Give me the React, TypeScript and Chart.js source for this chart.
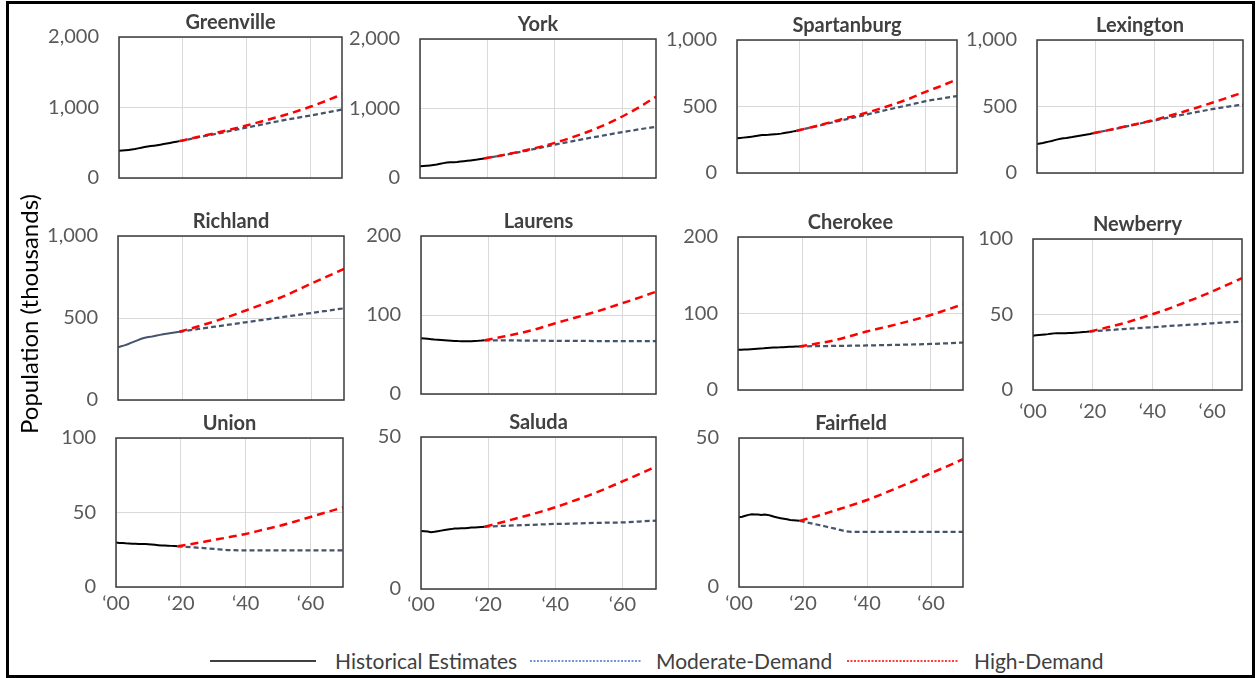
import React, { useEffect, useRef } from "react";
import { Chart, registerables } from "chart.js";

Chart.register(...registerables);

// ---------- data ----------
const HIST_YEARS = [2000, 2001, 2002, 2003, 2004, 2005, 2006, 2007, 2008, 2009, 2010, 2011, 2012, 2013, 2014, 2015, 2016, 2017, 2018, 2019];
const PROJ_YEARS = [2019, 2025, 2030, 2035, 2040, 2045, 2050, 2055, 2060, 2065, 2070];
const X_TICK_VALUES = [2000, 2020, 2040, 2060];
const X_TICK_LABELS = ["\u201800", "\u201820", "\u201840", "\u201860"];
const SERIES_NAMES = ["Historical Estimates", "Moderate-Demand", "High-Demand"];

const greenvilleHist = [385, 389, 393, 398, 404, 411, 420, 430, 440, 447, 453, 459, 466, 473, 481, 489, 497, 506, 515, 523];
const greenvilleModerate = [523, 578, 622, 668, 715, 760, 805, 847, 885, 928, 970];
const greenvilleHigh = [523, 585, 635, 688, 745, 805, 868, 935, 1010, 1095, 1187];
const greenvilleTicks = [0, 1000, 2000];

const yorkHist = [168, 172, 176, 181, 187, 194, 204, 214, 222, 227, 228, 231, 236, 241, 247, 253, 260, 266, 274, 281];
const yorkModerate = [281, 332, 378, 428, 480, 528, 573, 617, 660, 700, 737];
const yorkHigh = [281, 333, 384, 441, 506, 582, 669, 769, 885, 1018, 1170];
const yorkTicks = [0, 1000, 2000];

const spartanburgHist = [262, 264, 266, 268, 271, 274, 278, 282, 285, 286, 287, 289, 291, 293, 296, 300, 304, 308, 313, 318];
const spartanburgModerate = [318, 350, 378, 405, 432, 460, 487, 513, 540, 560, 578];
const spartanburgHigh = [318, 352, 383, 415, 445, 480, 518, 560, 610, 655, 704];
const spartanburgTicks = [0, 500, 1000];

const lexingtonHist = [218, 222, 226, 231, 236, 241, 247, 253, 258, 262, 264, 267, 270, 274, 278, 282, 286, 290, 294, 299];
const lexingtonModerate = [299, 325, 348, 372, 395, 418, 440, 461, 482, 499, 515];
const lexingtonHigh = [299, 326, 350, 374, 400, 430, 462, 496, 532, 568, 606];
const lexingtonTicks = [0, 500, 1000];

const richlandHist = [322, 328, 333, 340, 348, 356, 364, 372, 378, 382, 385, 389, 393, 397, 401, 404, 407, 410, 413, 416];
const richlandModerate = [416, 433, 447, 461, 475, 489, 503, 517, 531, 545, 559];
const richlandHigh = [416, 450, 480, 513, 549, 585, 622, 665, 711, 755, 800];
const richlandTicks = [0, 500, 1000];

const laurensHist = [70.5, 70.2, 69.8, 69.4, 69.0, 68.7, 68.4, 68.1, 67.8, 67.5, 67.2, 67.0, 66.9, 66.8, 66.8, 66.9, 67.1, 67.3, 67.6, 68.0];
const laurensModerate = [68.0, 68.0, 67.7, 67.5, 67.3, 67.2, 67.1, 67.0, 67.0, 67.0, 67.0];
const laurensHigh = [68.0, 73.0, 77.5, 83.0, 89.5, 95.5, 101.5, 108.0, 115.0, 122.0, 129.5];
const laurensTicks = [0, 100, 200];

const cherokeeHist = [52.5, 52.7, 52.9, 53.1, 53.4, 53.7, 54.0, 54.3, 54.6, 55.0, 55.3, 55.5, 55.7, 55.8, 56.0, 56.2, 56.4, 56.6, 56.8, 57.0];
const cherokeeModerate = [57.0, 57.3, 57.6, 57.9, 58.2, 58.6, 59.1, 59.6, 60.2, 61.0, 62.0];
const cherokeeHigh = [57.0, 61.0, 65.0, 70.5, 76.4, 81.5, 86.5, 92.0, 98.0, 105.0, 112.0];
const cherokeeTicks = [0, 100, 200];

const newberryHist = [36.0, 36.2, 36.4, 36.6, 36.8, 37.0, 37.3, 37.5, 37.6, 37.6, 37.6, 37.6, 37.7, 37.8, 37.9, 38.0, 38.2, 38.4, 38.5, 38.7];
const newberryModerate = [38.7, 39.6, 40.3, 41.0, 41.6, 42.3, 42.9, 43.5, 44.2, 44.8, 45.3];
const newberryHigh = [38.7, 41.5, 44.0, 47.0, 50.2, 53.5, 57.3, 61.1, 65.2, 69.6, 74.1];
const newberryTicks = [0, 50, 100];

const unionHist = [29.8, 29.6, 29.5, 29.3, 29.2, 29.1, 29.0, 28.9, 28.9, 28.8, 28.7, 28.5, 28.3, 28.1, 27.9, 27.8, 27.7, 27.6, 27.5, 27.3];
const unionModerate = [27.3, 26.4, 25.6, 24.8, 24.6, 24.6, 24.6, 24.6, 24.6, 24.6, 24.6];
const unionHigh = [27.3, 29.5, 31.5, 33.5, 35.6, 38.2, 40.8, 43.8, 47.0, 50.2, 53.4];
const unionTicks = [0, 50, 100];

const saludaHist = [19.1, 19.0, 18.9, 18.7, 18.8, 19.0, 19.2, 19.4, 19.6, 19.7, 19.9, 19.9, 20.0, 20.0, 20.1, 20.2, 20.2, 20.3, 20.4, 20.5];
const saludaModerate = [20.5, 20.8, 21.0, 21.2, 21.4, 21.5, 21.7, 21.8, 21.9, 22.2, 22.5];
const saludaHigh = [20.5, 22.2, 23.7, 25.2, 26.9, 28.8, 30.8, 33.0, 35.4, 37.8, 40.3];
const saludaTicks = [0, 50];

const fairfieldHist = [23.4, 23.6, 23.9, 24.2, 24.4, 24.3, 24.3, 24.2, 24.3, 24.2, 23.9, 23.6, 23.3, 23.1, 22.9, 22.7, 22.5, 22.4, 22.3, 22.2];
const fairfieldModerate = [22.2, 20.8, 19.6, 18.5, 18.5, 18.5, 18.5, 18.5, 18.5, 18.5, 18.5];
const fairfieldHigh = [22.2, 24.0, 25.7, 27.4, 29.2, 31.3, 33.5, 35.8, 38.2, 40.5, 42.9];
const fairfieldTicks = [0, 50];

// ---------- layout / style ----------
const FONT = "Lato";
const TICK_COLOR = "#595959";
const GRID_COLOR = "#D9D9D9";
const HIST_COLOR = "#000000";
const MOD_COLOR = "#44546A";
const HIGH_COLOR = "#FF0000";

const Y_AXIS_W = 80;
const RIGHT_PAD = 4;
const TITLE_H = 26;
const X_AXIS_H = 34;

type Panel = {
  name: string;
  hist: number[];
  moderate: number[];
  high: number[];
  ticks: number[];
  box: [number, number, number, number];
  xLabels: boolean;
  xPad: number;
  histColor: string;
};

const PANELS: Panel[] = [
  { name: "Greenville", hist: greenvilleHist, moderate: greenvilleModerate, high: greenvilleHigh, ticks: greenvilleTicks, box: [119, 37, 342, 178], xLabels: false, xPad: 5, histColor: HIST_COLOR },
  { name: "York", hist: yorkHist, moderate: yorkModerate, high: yorkHigh, ticks: yorkTicks, box: [420, 39, 656, 178], xLabels: false, xPad: 5, histColor: HIST_COLOR },
  { name: "Spartanburg", hist: spartanburgHist, moderate: spartanburgModerate, high: spartanburgHigh, ticks: spartanburgTicks, box: [737, 40, 957, 173], xLabels: false, xPad: 5, histColor: HIST_COLOR },
  { name: "Lexington", hist: lexingtonHist, moderate: lexingtonModerate, high: lexingtonHigh, ticks: lexingtonTicks, box: [1037, 40, 1243, 173], xLabels: false, xPad: 5, histColor: HIST_COLOR },
  { name: "Richland", hist: richlandHist, moderate: richlandModerate, high: richlandHigh, ticks: richlandTicks, box: [118, 236, 344, 400], xLabels: false, xPad: 5, histColor: MOD_COLOR },
  { name: "Laurens", hist: laurensHist, moderate: laurensModerate, high: laurensHigh, ticks: laurensTicks, box: [421, 236, 656, 394], xLabels: false, xPad: 5, histColor: HIST_COLOR },
  { name: "Cherokee", hist: cherokeeHist, moderate: cherokeeModerate, high: cherokeeHigh, ticks: cherokeeTicks, box: [738, 237, 963, 390], xLabels: false, xPad: 5, histColor: HIST_COLOR },
  { name: "Newberry", hist: newberryHist, moderate: newberryModerate, high: newberryHigh, ticks: newberryTicks, box: [1033, 239, 1242, 390], xLabels: true, xPad: 10, histColor: HIST_COLOR },
  { name: "Union", hist: unionHist, moderate: unionModerate, high: unionHigh, ticks: unionTicks, box: [116, 438, 343, 587], xLabels: true, xPad: 5, histColor: HIST_COLOR },
  { name: "Saluda", hist: saludaHist, moderate: saludaModerate, high: saludaHigh, ticks: saludaTicks, box: [421, 437, 656, 589], xLabels: true, xPad: 4, histColor: HIST_COLOR },
  { name: "Fairfield", hist: fairfieldHist, moderate: fairfieldModerate, high: fairfieldHigh, ticks: fairfieldTicks, box: [739, 438, 963, 587], xLabels: true, xPad: 5, histColor: HIST_COLOR },
];

const framePlugin = {
  id: "plotFrame",
  afterDatasetsDraw(chart: any) {
    const { ctx, chartArea } = chart;
    ctx.save();
    ctx.strokeStyle = "#3A3A3A";
    ctx.lineWidth = 1.5;
    ctx.strokeRect(chartArea.left, chartArea.top, chartArea.right - chartArea.left, chartArea.bottom - chartArea.top);
    ctx.restore();
  },
};

function PanelChart({ p }: { p: Panel }) {
  const ref = useRef<HTMLCanvasElement | null>(null);
  const [L, T, R, B] = p.box;
  const bottomPad = p.xLabels ? 3 : 16;
  const width = R - L + Y_AXIS_W + RIGHT_PAD;
  const height = TITLE_H + (B - T) + (p.xLabels ? X_AXIS_H : 0) + bottomPad;

  useEffect(() => {
    if (!ref.current) return;
    const toPts = (xs: number[], ys: number[]) => xs.map((x, i) => ({ x, y: ys[i] }));
    const chart = new Chart(ref.current, {
      type: "line",
      data: {
        datasets: [
          {
            label: SERIES_NAMES[0],
            data: toPts(HIST_YEARS, p.hist),
            borderColor: p.histColor,
            borderWidth: 2,
            pointRadius: 0,
            tension: 0,
            order: 2,
          },
          {
            label: SERIES_NAMES[1],
            data: toPts(PROJ_YEARS, p.moderate),
            borderColor: MOD_COLOR,
            borderWidth: 2.25,
            borderDash: [5, 3],
            pointRadius: 0,
            cubicInterpolationMode: "monotone",
            order: 1,
          },
          {
            label: SERIES_NAMES[2],
            data: toPts(PROJ_YEARS, p.high),
            borderColor: HIGH_COLOR,
            borderWidth: 2.5,
            borderDash: [8, 5],
            pointRadius: 0,
            cubicInterpolationMode: "monotone",
            order: 0,
          },
        ],
      },
      options: {
        animation: false,
        responsive: false,
        events: [],
        layout: { padding: { left: 0, right: RIGHT_PAD, top: 0, bottom: bottomPad } },
        plugins: {
          legend: { display: false },
          tooltip: { enabled: false },
          title: {
            display: true,
            text: p.name,
            fullSize: false,
            color: "#404040",
            font: { family: FONT, size: 20, weight: "bold", lineHeight: 1.2 },
            padding: { top: 0, bottom: TITLE_H - 24 },
          },
        },
        scales: {
          x: {
            type: "linear",
            min: 2000,
            max: 2070,
            afterBuildTicks: (s: any) => {
              s.ticks = X_TICK_VALUES.map((v) => ({ value: v }));
            },
            afterFit: (s: any) => {
              s.height = p.xLabels ? X_AXIS_H : 0;
              s.paddingLeft = 0;
              s.paddingRight = 0;
            },
            ticks: {
              display: p.xLabels,
              autoSkip: false,
              maxRotation: 0,
              padding: p.xPad,
              color: TICK_COLOR,
              font: { family: FONT, size: 20 },
              callback: (v: any) => X_TICK_LABELS[X_TICK_VALUES.indexOf(Number(v))] ?? "",
            },
            grid: { color: GRID_COLOR, lineWidth: 1, drawTicks: false },
            border: { display: false },
          },
          y: {
            type: "linear",
            min: p.ticks[0],
            max: p.ticks[p.ticks.length - 1],
            afterBuildTicks: (s: any) => {
              s.ticks = p.ticks.map((v) => ({ value: v }));
            },
            afterFit: (s: any) => {
              s.width = Y_AXIS_W;
              s.paddingTop = 0;
              s.paddingBottom = 0;
            },
            ticks: {
              padding: 20,
              color: TICK_COLOR,
              font: { family: FONT, size: 20 },
              callback: (v: any) => Number(v).toLocaleString("en-US"),
            },
            grid: { color: GRID_COLOR, lineWidth: 1, drawTicks: false },
            border: { display: false },
          },
        },
      },
      plugins: [framePlugin],
    } as any);
    return () => chart.destroy();
  }, [p]);

  return (
    <canvas
      ref={ref}
      width={width}
      height={height}
      style={{ position: "absolute", left: L - Y_AXIS_W, top: T - TITLE_H, width, height }}
    />
  );
}

const legendText: React.CSSProperties = {
  position: "absolute",
  top: 649,
  height: 24,
  lineHeight: "24px",
  fontFamily: FONT,
  fontSize: 21,
  color: "#404040",
  whiteSpace: "nowrap",
};

function LegendLine({ left, width, color, dash }: { left: number; width: number; color: string; dash?: string }) {
  return (
    <svg style={{ position: "absolute", left, top: 659 }} width={width} height={4}>
      <line x1={0} y1={2} x2={width} y2={2} stroke={color} strokeWidth={1.3} strokeDasharray={dash} />
    </svg>
  );
}

export default function App() {
  return (
    <div style={{ position: "absolute", left: 0, top: 0, width: 1257, height: 678, background: "#fff", overflow: "hidden" }}>
      {PANELS.map((p) => (
        <PanelChart key={p.name} p={p} />
      ))}
      <div
        style={{
          position: "absolute",
          left: 28,
          top: 314,
          transform: "translate(-50%, -50%) rotate(-90deg)",
          fontFamily: FONT,
          fontSize: 24,
          color: "#000",
          whiteSpace: "nowrap",
        }}
      >
        Population (thousands)
      </div>
      {/* legend */}
      <LegendLine left={210} width={106} color="#000000" />
      <div style={{ ...legendText, left: 335 }}>{SERIES_NAMES[0]}</div>
      <LegendLine left={530} width={112} color="#4472C4" dash="2 1.5" />
      <div style={{ ...legendText, left: 656 }}>{SERIES_NAMES[1]}</div>
      <LegendLine left={847} width={111} color="#FF0000" dash="2 1.5" />
      <div style={{ ...legendText, left: 974 }}>{SERIES_NAMES[2]}</div>
      {/* outer frame */}
      <div
        style={{
          position: "absolute",
          left: 6,
          top: 1,
          width: 1249,
          height: 677,
          border: "3px solid #000",
          boxSizing: "border-box",
          pointerEvents: "none",
        }}
      />
    </div>
  );
}
